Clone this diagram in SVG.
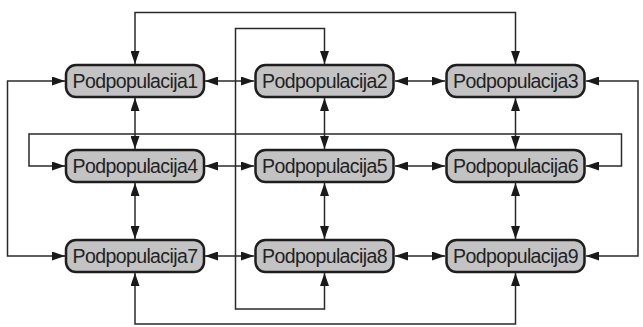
<svg xmlns="http://www.w3.org/2000/svg" width="643" height="327" viewBox="0 0 643 327">
<style>
.box{fill:#c3c3c3;stroke:#1e1e1e;stroke-width:2.5}
.lbl{font-family:"Liberation Sans",Arial,sans-serif;font-size:19.5px;letter-spacing:-0.6px;fill:#222;text-anchor:middle}
.c{fill:none;stroke:#2a2a2a;stroke-width:1.5}
</style>
<defs>
<marker id="ah" markerUnits="userSpaceOnUse" viewBox="0 0 13 9" refX="13" refY="4.5" markerWidth="13" markerHeight="9" orient="auto-start-reverse">
<path d="M0,0 L13,4.5 L0,9 z" fill="#1a1a1a"/>
</marker>
</defs>
<rect width="643" height="327" fill="#ffffff"/>
<g id="connectors">
<line class="c" x1="205" y1="81" x2="254" y2="81" marker-start="url(#ah)" marker-end="url(#ah)"/>
<line class="c" x1="395" y1="81" x2="445" y2="81" marker-start="url(#ah)" marker-end="url(#ah)"/>
<line class="c" x1="205" y1="166" x2="254" y2="166" marker-start="url(#ah)" marker-end="url(#ah)"/>
<line class="c" x1="395" y1="166" x2="445" y2="166" marker-start="url(#ah)" marker-end="url(#ah)"/>
<line class="c" x1="205" y1="256" x2="254" y2="256" marker-start="url(#ah)" marker-end="url(#ah)"/>
<line class="c" x1="395" y1="256" x2="445" y2="256" marker-start="url(#ah)" marker-end="url(#ah)"/>
<line class="c" x1="135" y1="98" x2="135" y2="149" marker-start="url(#ah)" marker-end="url(#ah)"/>
<line class="c" x1="135" y1="183" x2="135" y2="239" marker-start="url(#ah)" marker-end="url(#ah)"/>
<line class="c" x1="324.5" y1="98" x2="324.5" y2="149" marker-start="url(#ah)" marker-end="url(#ah)"/>
<line class="c" x1="324.5" y1="183" x2="324.5" y2="239" marker-start="url(#ah)" marker-end="url(#ah)"/>
<line class="c" x1="515.5" y1="98" x2="515.5" y2="149" marker-start="url(#ah)" marker-end="url(#ah)"/>
<line class="c" x1="515.5" y1="183" x2="515.5" y2="239" marker-start="url(#ah)" marker-end="url(#ah)"/>
<path class="c" d="M135,64 V12.5 H515.5 V64" marker-start="url(#ah)" marker-end="url(#ah)"/>
<path class="c" d="M324.5,64 V28.5 H235.5 V309 H324.5 V273" marker-start="url(#ah)" marker-end="url(#ah)"/>
<path class="c" d="M65,166 H29 V134 H621.5 V166 H586" marker-start="url(#ah)" marker-end="url(#ah)"/>
<path class="c" d="M65,81 H7.5 V256 H65" marker-start="url(#ah)" marker-end="url(#ah)"/>
<path class="c" d="M586,81 H638 V256 H586" marker-start="url(#ah)" marker-end="url(#ah)"/>
<path class="c" d="M135,273 V324 H515.5 V273" marker-start="url(#ah)" marker-end="url(#ah)"/>
</g>
<g id="n1"><rect class="box" x="66" y="65" width="138" height="32" rx="10"/><text class="lbl" x="135" y="88">Podpopulacija1</text></g>
<g id="n2"><rect class="box" x="255.5" y="65" width="138" height="32" rx="10"/><text class="lbl" x="324.5" y="88">Podpopulacija2</text></g>
<g id="n3"><rect class="box" x="446.5" y="65" width="138" height="32" rx="10"/><text class="lbl" x="515.5" y="88">Podpopulacija3</text></g>
<g id="n4"><rect class="box" x="66" y="150" width="138" height="32" rx="10"/><text class="lbl" x="135" y="173">Podpopulacija4</text></g>
<g id="n5"><rect class="box" x="255.5" y="150" width="138" height="32" rx="10"/><text class="lbl" x="324.5" y="173">Podpopulacija5</text></g>
<g id="n6"><rect class="box" x="446.5" y="150" width="138" height="32" rx="10"/><text class="lbl" x="515.5" y="173">Podpopulacija6</text></g>
<g id="n7"><rect class="box" x="66" y="240" width="138" height="32" rx="10"/><text class="lbl" x="135" y="263">Podpopulacija7</text></g>
<g id="n8"><rect class="box" x="255.5" y="240" width="138" height="32" rx="10"/><text class="lbl" x="324.5" y="263">Podpopulacija8</text></g>
<g id="n9"><rect class="box" x="446.5" y="240" width="138" height="32" rx="10"/><text class="lbl" x="515.5" y="263">Podpopulacija9</text></g>
</svg>
